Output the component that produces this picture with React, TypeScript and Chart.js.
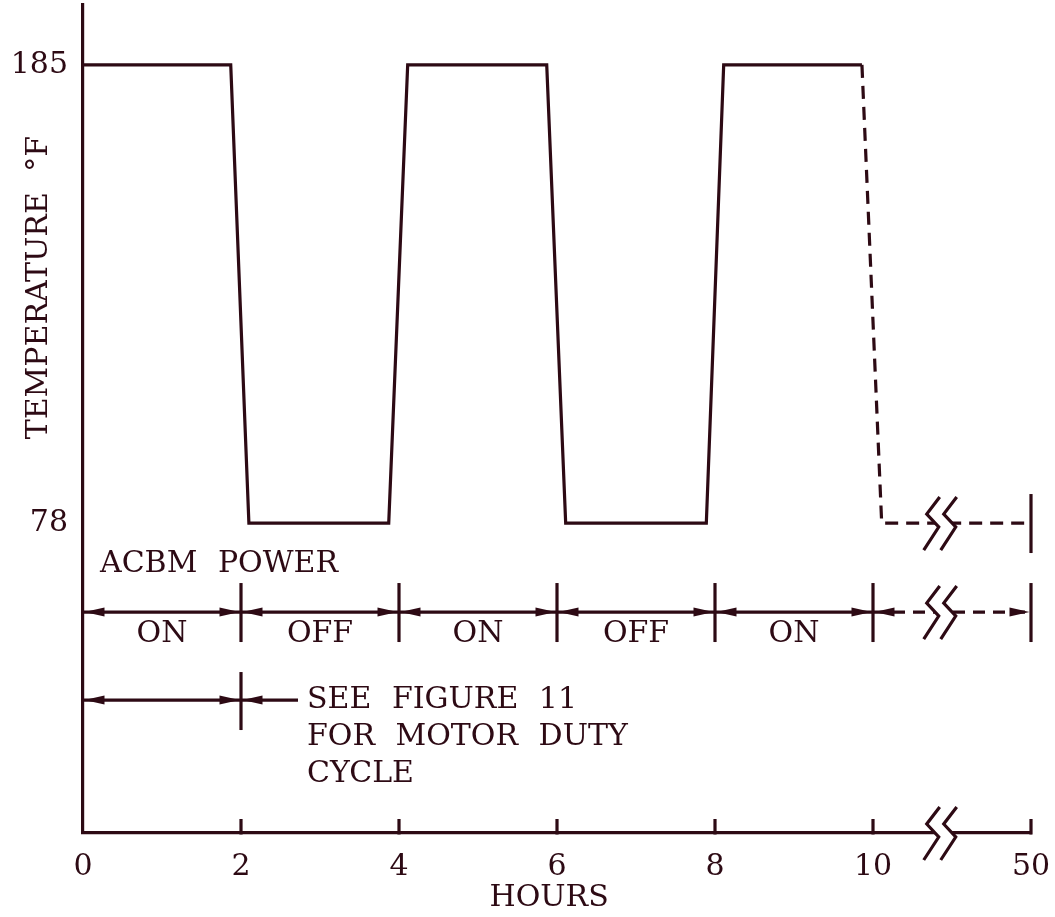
import React, { useEffect, useRef } from "react";
import { Chart, registerables } from "chart.js";

Chart.register(...registerables);

const INK = "#2d0a14";
const FONT = "DejaVu Serif";

const xTickValues = [0, 2, 4, 6, 8, 10, 12];
const xTickLabels = ["0", "2", "4", "6", "8", "10", "50"];
const yTickValues = [78, 185];
const yTickLabels = ["78", "185"];

const solidHours = [0, 1.87, 2.1, 3.87, 4.11, 5.87, 6.11, 7.89, 8.11, 9.86];
const solidTemps = [185, 185, 78, 78, 185, 185, 78, 78, 185, 185];
const dashedHours = [9.86, 10.11, 12];
const dashedTemps = [185, 78, 78];

const powerBounds = [0, 2, 4, 6, 8, 10, 12];
const powerStates = ["ON", "OFF", "ON", "OFF", "ON"];
const breakHour = 10.87;
const noteLines = ["SEE FIGURE 11", "FOR MOTOR DUTY", "CYCLE"];
const powerTitle = "ACBM POWER";
const xTitle = "HOURS";
const yTitle = "TEMPERATURE °F";

const annotations = {
  id: "annotations",
  afterDraw(chart: any) {
    const { ctx, chartArea, scales } = chart;
    const xs = scales.x;
    const ys = scales.y;
    const px = (h: number) => xs.getPixelForValue(h);
    const y78 = ys.getPixelForValue(78);
    const bottom = chartArea.bottom;
    const rowP = y78 + 89;
    const rowN = y78 + 177;

    ctx.save();
    ctx.strokeStyle = INK;
    ctx.fillStyle = INK;
    ctx.lineWidth = 3.2;
    ctx.lineCap = "butt";

    const line = (x1: number, y1: number, x2: number, y2: number, dash: number[] = []) => {
      ctx.save();
      ctx.setLineDash(dash);
      ctx.beginPath();
      ctx.moveTo(x1, y1);
      ctx.lineTo(x2, y2);
      ctx.stroke();
      ctx.restore();
    };
    const arrow = (tipX: number, yy: number, dir: number) => {
      ctx.beginPath();
      ctx.moveTo(tipX, yy);
      ctx.lineTo(tipX - dir * 20, yy - 4.5);
      ctx.lineTo(tipX - dir * 20, yy + 4.5);
      ctx.closePath();
      ctx.fill();
    };
    const brk = (cx: number, cy: number) => {
      const s1 = [[-2, -26], [-15, -9], [-3, 4], [-18, 27]];
      const s2 = s1.map(([a, b]) => [a + 17, b]);
      ctx.save();
      ctx.fillStyle = "#ffffff";
      ctx.beginPath();
      s1.forEach(([a, b], i) => (i ? ctx.lineTo(cx + a, cy + b) : ctx.moveTo(cx + a, cy + b)));
      [...s2].reverse().forEach(([a, b]) => ctx.lineTo(cx + a, cy + b));
      ctx.closePath();
      ctx.fill();
      ctx.restore();
      ctx.lineJoin = "miter";
      [s1, s2].forEach((s) => {
        ctx.beginPath();
        s.forEach(([a, b], i) => (i ? ctx.lineTo(cx + a, cy + b) : ctx.moveTo(cx + a, cy + b)));
        ctx.stroke();
      });
    };

    // x-axis inward ticks
    xTickValues.slice(1).forEach((v) => line(px(v), bottom + 1.5, px(v), bottom - 14));

    // end marker on the 78 line
    line(px(12), y78 - 29, px(12), y78 + 30);

    ctx.font = `30px "${FONT}"`;
    (ctx as any).wordSpacing = "11px";

    // power row
    powerBounds.slice(1).forEach((b) => line(px(b), rowP - 29, px(b), rowP + 30));
    ctx.textAlign = "center";
    ctx.textBaseline = "middle";
    for (let i = 0; i < powerStates.length; i++) {
      const a = px(powerBounds[i]);
      const b = px(powerBounds[i + 1]);
      line(a, rowP, b, rowP);
      arrow(a + 1.5, rowP, -1);
      arrow(b - 1.5, rowP, 1);
      ctx.fillText(powerStates[i], (a + b) / 2, rowP + 22);
    }
    {
      const a = px(powerBounds[5]);
      const b = px(powerBounds[6]);
      arrow(a + 1.5, rowP, -1);
      line(a, rowP, b, rowP, [12, 8]);
      arrow(b - 1.5, rowP, 1);
    }

    // note row
    {
      const a = px(0);
      const b = px(2);
      line(a, rowN, b, rowN);
      arrow(a + 1.5, rowN, -1);
      arrow(b - 1.5, rowN, 1);
      line(b, rowN - 28, b, rowN + 30);
      line(b, rowN, b + 57, rowN);
      arrow(b + 1.5, rowN, -1);
      ctx.textAlign = "left";
      noteLines.forEach((t, i) => ctx.fillText(t, b + 66, rowN + i * 37));
    }

    // power title
    ctx.textAlign = "left";
    ctx.fillText(powerTitle, px(0) + 17, y78 + 41);

    // break marks
    const bx = px(breakHour);
    brk(bx, y78);
    brk(bx, rowP);
    brk(bx, bottom);

    // axis titles
    ctx.textAlign = "center";
    ctx.fillText(xTitle, px(5.9), bottom + 65);
    ctx.save();
    ctx.translate(39, ys.getPixelForValue(133));
    ctx.rotate(-Math.PI / 2);
    ctx.fillText(yTitle, 0, 0);
    ctx.restore();

    ctx.restore();
  },
};

export default function App() {
  const ref = useRef<HTMLCanvasElement | null>(null);
  useEffect(() => {
    if (!ref.current) return;
    const chart = new Chart(ref.current, {
      type: "line",
      data: {
        datasets: [
          {
            data: solidHours.map((h, i) => ({ x: h, y: solidTemps[i] })),
            borderColor: INK,
            borderWidth: 3.2,
            pointRadius: 0,
            tension: 0,
            fill: false,
            borderJoinStyle: "miter",
          },
          {
            data: dashedHours.map((h, i) => ({ x: h, y: dashedTemps[i] })),
            borderColor: INK,
            borderWidth: 3.2,
            borderDash: [13, 8],
            pointRadius: 0,
            tension: 0,
            fill: false,
            borderJoinStyle: "miter",
          },
        ],
      },
      options: {
        responsive: false,
        animation: false,
        devicePixelRatio: 1,
        events: [],
        layout: { padding: { left: 0, top: 5, right: 24, bottom: 0 } },
        plugins: { legend: { display: false }, tooltip: { enabled: false } },
        scales: {
          x: {
            type: "linear",
            min: 0,
            max: 12,
            afterBuildTicks: (s: any) => {
              s.ticks = xTickValues.map((v) => ({ value: v }));
            },
            afterFit: (s: any) => {
              s.height = 84;
              s.paddingLeft = 0;
              s.paddingRight = 0;
            },
            ticks: {
              callback: (_v: any, i: number) => xTickLabels[i],
              font: { family: FONT, size: 30 },
              color: INK,
              padding: 8,
              maxRotation: 0,
              autoSkip: false,
            },
            grid: { display: false },
            border: { display: true, color: INK, width: 3.2 },
          },
          y: {
            type: "linear",
            min: 5.6,
            max: 199,
            afterBuildTicks: (s: any) => {
              s.ticks = yTickValues.map((v) => ({ value: v }));
            },
            afterFit: (s: any) => {
              s.width = 83;
              s.paddingTop = 0;
              s.paddingBottom = 0;
            },
            ticks: {
              callback: (_v: any, i: number) => yTickLabels[i],
              font: { family: FONT, size: 30 },
              color: INK,
              padding: 7,
              autoSkip: false,
            },
            grid: { display: false },
            border: { display: true, color: INK, width: 3.2 },
          },
        },
      },
      plugins: [annotations],
    } as any);
    return () => chart.destroy();
  }, []);
  return (
    <div style={{ position: "absolute", left: 0, top: 0, width: 1055, height: 917 }}>
      <canvas ref={ref} width={1055} height={917} />
    </div>
  );
}
